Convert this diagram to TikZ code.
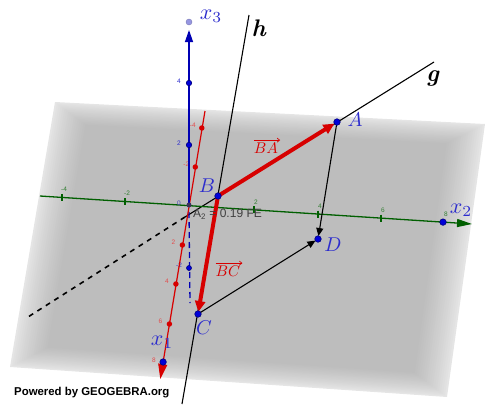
\documentclass[tikz,border=0pt]{standalone}
\usepackage{fontspec}
\newfontfamily\sansf{Liberation Sans}
\usetikzlibrary{arrows.meta,calc}
\definecolor{gblue}{RGB}{0,0,180}
\definecolor{lblue}{RGB}{45,45,205}
\definecolor{gred}{RGB}{215,0,0}
\definecolor{ggreen}{RGB}{0,95,0}
\definecolor{gpur}{RGB}{150,150,225}
\definecolor{gdark}{RGB}{60,50,90}
\begin{document}
\begin{tikzpicture}[x=1pt,y=-1pt,
  ptlab/.style={text=lblue,scale=2.0,inner sep=0pt},
  axlab/.style={text=lblue,scale=2.2,inner sep=0pt},
  ticklab/.style={font=\sansf\fontsize{6.5}{7}\selectfont,inner sep=0pt},
  bdot/.style={circle,fill=blue!85!black,draw=gblue!70!black,line width=0.6pt,inner sep=0pt,minimum size=6.5pt},
  rdot/.style={circle,fill=gred,inner sep=0pt,minimum size=5.5pt},
  redvec/.style={draw=gred,line width=4pt,-{Triangle[length=11pt,width=10pt]}},
  blkvec/.style={draw=black,line width=1.1pt,-{Triangle[length=8pt,width=7pt]}},
  vlab/.style={text=gred,scale=1.55,inner sep=0.5pt},
  vbar/.style={draw=gred,line width=0.7pt,-{Straight Barb[length=2.5pt,width=4pt]}},
  lnlab/.style={scale=2.4,inner sep=0pt}
]
\useasboundingbox (0,0) rectangle (485,405);
% plane
\coordinate (P1) at (55,102);
\coordinate (P2) at (485,124);
\coordinate (P3) at (447,397);
\coordinate (P4) at (10,367);
\coordinate (Q) at (245,245);
\foreach \i in {0,...,16}{
  \pgfmathsetmacro{\f}{1-0.01*\i}
  \pgfmathsetmacro{\c}{10+16*(\i/16)^0.8}
  \fill[black!\c] ($(Q)!\f!(P1)$) -- ($(Q)!\f!(P2)$) -- ($(Q)!\f!(P3)$) -- ($(Q)!\f!(P4)$) -- cycle;
}
% key points
\coordinate (O) at (189,205);
\coordinate (A) at (337,122);
\coordinate (B) at (218,196);
\coordinate (C) at (198,314);
\coordinate (D) at (318,239);
\coordinate (htop) at (249,15);
\coordinate (hbot) at (182,404);
\coordinate (gtop) at (434,62);
\coordinate (gmid) at (185,217);
\coordinate (gend) at (28,317);
% line g
\draw[black,line width=1.6pt,dash pattern=on 5pt off 5pt] (gmid) -- (gend);
\draw[black,line width=1.1pt] (gmid) -- (gtop);
% line h
\draw[black,line width=1.1pt] (htop) -- (hbot);
% x2 axis
\coordinate (x2s) at (40,196);
\coordinate (x2e) at (472,224);
\draw[ggreen,line width=1.3pt,-{Triangle[length=15pt,width=8pt]}] (x2s) -- (x2e);
\foreach \xx/\yy/\lab in {62/197.4/-4,125/201.5/-2,254/209.9/2,318/214.0/4,381/218.1/6}{
  \draw[ggreen,line width=1.3pt] (\xx,\yy-3.5) -- (\xx,\yy+3.5);
  \node[ticklab,text=ggreen!80] at (\xx+2,\yy-8) {\lab};
}
\node[ticklab,text=ggreen!80] at (446,214) {8};
% x3 negative part (dashed)
\coordinate (x3n) at (190,303);
\draw[gblue,line width=1.3pt,dash pattern=on 6pt off 4pt] ($(O)+(0,7)$) -- (x3n);
\node[bdot,minimum size=5pt] (t3m) at (189,268) {};
\node[ticklab,text=lblue] at (179,265) {-2};
% x1 axis
\coordinate (x1t) at (205,111);
\coordinate (x1e) at (160.3,379);
\draw[gred,line width=1.2pt,-{Triangle[length=15pt,width=9pt]}] (x1t) -- (x1e);
\foreach \xx/\yy/\lab in {201.8/128/-4,195.3/167/-2,182.4/245/2,175.9/284/4,169.4/324/6}{
  \node[rdot] at (\xx,\yy) {};
  \node[ticklab,text=gred!70] at (\xx-9,\yy-3) {\lab};
}
\node[ticklab,text=gred!70] at (154,360) {8};
% x3 axis
\coordinate (x3t) at (189,30);
\draw[gblue,line width=1.3pt,-{Triangle[length=12pt,width=8pt]}] (O) -- (x3t);
\foreach \yy/\lab in {83/4,145/2}{
  \node[bdot,minimum size=5.5pt] at (189,\yy) {};
  \node[ticklab,text=lblue] at (179,\yy-2) {\lab};
}
\node[circle,fill=gpur,draw=gpur!80!black,line width=0.4pt,inner sep=0pt,minimum size=6pt] (x3end) at (189,22) {};
% origin
\node[circle,fill=gdark,inner sep=0pt,minimum size=5pt] (orig) at (O) {};
\node[ticklab,text=lblue!70!gray] at (179,203) {0};
% vectors
\draw[blkvec,shorten >=3pt] (A) -- (D);
\draw[blkvec,shorten >=3pt] (C) -- (D);
\draw[redvec,shorten >=3pt] (B) -- (A);
\draw[redvec,shorten >=2pt] (B) -- (C);
% points
\node[bdot] (nA) at (A) {};
\node[bdot] (nB) at (B) {};
\node[bdot] (nC) at (C) {};
\node[bdot] (nD) at (D) {};
\node[bdot] (n2) at (443,222.1) {};
\node[bdot] (n1) at (163.1,362) {};
% labels
\node[ptlab] (lA) at (355,120) {$A$};
\node[ptlab] (lB) at (207,186) {$B$};
\node[ptlab] (lC) at (204,328) {$C$};
\node[ptlab] (lD) at (333,245) {$D$};
\node[axlab] (lx3) at (211,16) {$x_3$};
\node[axlab] (lx2) at (461,210) {$x_2$};
\node[axlab] (lx1) at (162,342) {$x_1$};
\node[lnlab] (lh) at (259,28) {\textbf{\textit{h}}};
\node[lnlab] (lg) at (433,78) {\textbf{\textit{g}}};
\node[vlab] (lBA) at (266,148) {$BA$};
\draw[vbar] ($(lBA.north west)+(1,-1.5)$) -- ($(lBA.north east)+(1,-1.5)$);
\node[vlab] (lBC) at (228,271) {$BC$};
\draw[vbar] ($(lBC.north west)+(1,-1.5)$) -- ($(lBC.north east)+(1,-1.5)$);
\node[anchor=west,inner sep=0pt,text=black!75,font=\sansf\fontsize{12}{12}\selectfont] (area) at (193,214.5) {A\textsubscript{2} = 0.19 FE};
\node[anchor=west,inner sep=0pt,font=\sansf\bfseries\fontsize{11.4}{12}\selectfont] (pw) at (14,393) {Powered by GEOGEBRA.org};
\end{tikzpicture}
\end{document}
